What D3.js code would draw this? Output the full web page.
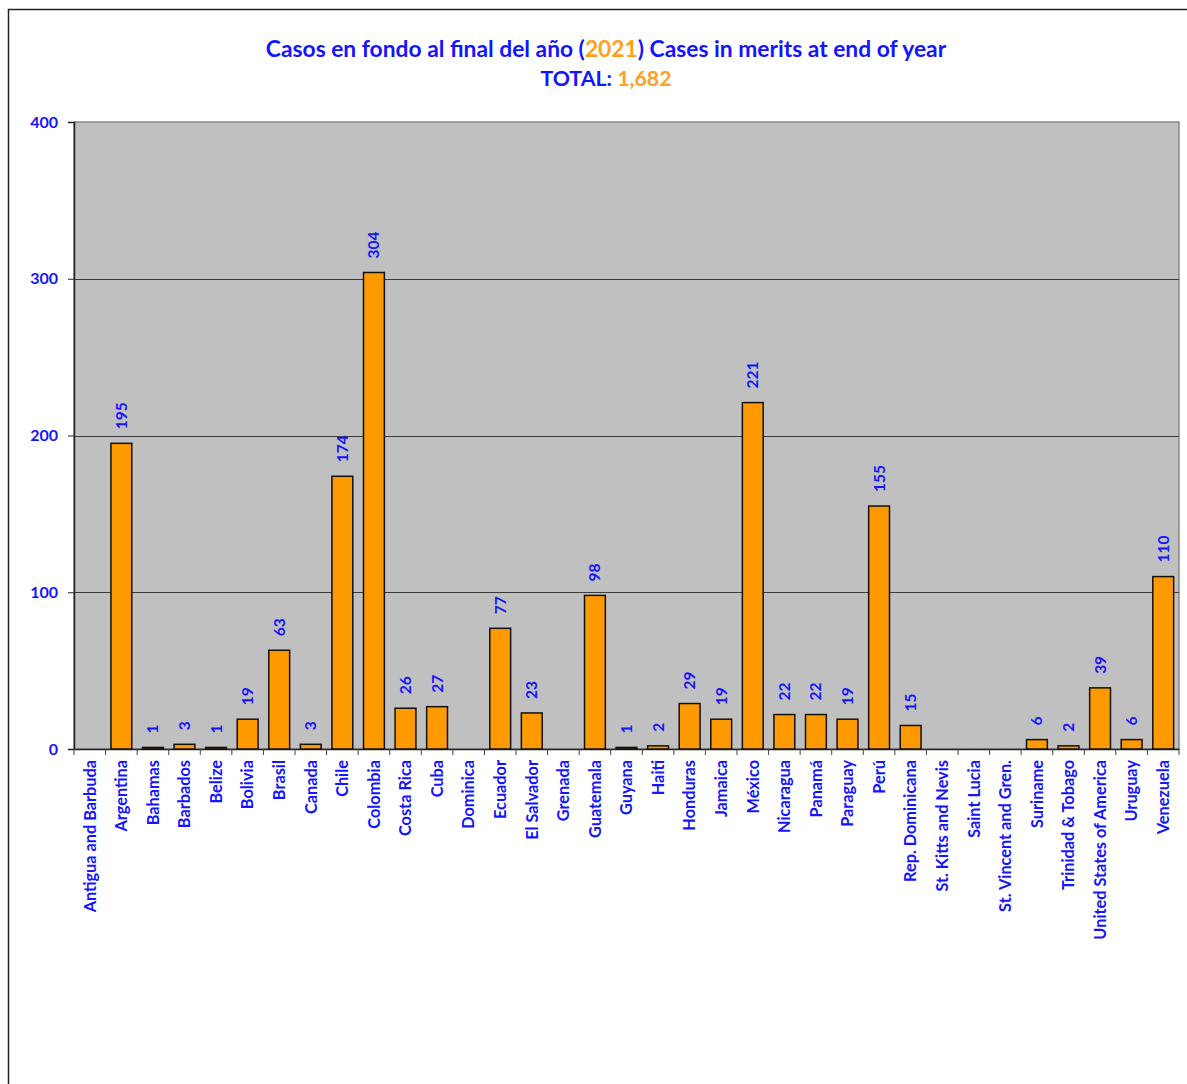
<!DOCTYPE html>
<html><head><meta charset="utf-8">
<script src="https://cdn.jsdelivr.net/npm/d3@7"></script>
<style>body{margin:0;background:#fff}svg{display:block}</style>
</head><body>
<script>
const categories = ["Antigua and Barbuda","Argentina","Bahamas","Barbados","Belize","Bolivia","Brasil","Canada","Chile","Colombia","Costa Rica","Cuba","Dominica","Ecuador","El Salvador","Grenada","Guatemala","Guyana","Haiti","Honduras","Jamaica","México","Nicaragua","Panamá","Paraguay","Perú","Rep. Dominicana","St. Kitts and Nevis","Saint Lucia","St. Vincent and Gren.","Suriname","Trinidad & Tobago","United States of America","Uruguay","Venezuela"];
const values = [0,195,1,3,1,19,63,3,174,304,26,27,0,77,23,0,98,1,2,29,19,221,22,22,19,155,15,0,0,0,6,2,39,6,110];
const yTicks = [0,100,200,300,400];
const titleParts = [["Casos en fondo al final del año (", "blue"], ["2021", "orange"], [") Cases in merits at end of year", "blue"]];
const totalParts = [["TOTAL: ", "blue"], ["1,682", "orange"]];

const W = 1187, H = 1084;
const BLUE = "#1414ff", ORANGE = "#ff9900", FONT = "Lato, 'Open Sans', sans-serif";
const m = {left: 74, right: 1179, top: 122, bottom: 749};

const svg = d3.select("body").append("svg").attr("width", W).attr("height", H);
svg.append("rect").attr("width", W).attr("height", H).attr("fill", "#fff");
// outer frame
svg.append("path").attr("d", `M8.5,${H+2} L8.5,9.5 L${W+2},9.5`).attr("fill","none").attr("stroke","#222").attr("stroke-width",1.5);

const x = d3.scaleBand().domain(categories).range([m.left, m.right]).paddingInner(0).paddingOuter(0);
const y = d3.scaleLinear().domain([0, 400]).range([m.bottom, m.top]);

// plot background
svg.append("rect").attr("x", m.left).attr("y", m.top).attr("width", m.right - m.left).attr("height", m.bottom - m.top)
  .attr("fill", "#c0c0c0").attr("stroke", "#888").attr("stroke-width", 1.5);

// gridlines
svg.append("g").selectAll("line").data(yTicks.filter(t => t > 0 && t < 400)).join("line")
  .attr("x1", m.left).attr("x2", m.right).attr("y1", d => Math.round(y(d)) + 0.5).attr("y2", d => Math.round(y(d)) + 0.5)
  .attr("stroke", "#3a3a3a").attr("stroke-width", 1);

// y axis
const yAxis = svg.append("g").attr("transform", `translate(${m.left},0)`)
  .call(d3.axisLeft(y).tickValues(yTicks).tickSize(6).tickPadding(10).tickFormat(d3.format("d")));
yAxis.select(".domain").attr("stroke", "#222").attr("stroke-width", 1.5);
yAxis.selectAll(".tick line").attr("stroke", "#222");
yAxis.selectAll("text").attr("fill", BLUE).attr("font-family", FONT).attr("font-weight", "bold").attr("font-size", 16);

// x axis
const xAxis = svg.append("g").attr("transform", `translate(0,${m.bottom})`)
  .call(d3.axisBottom(x).tickSize(0).tickPadding(0));
xAxis.select(".domain").attr("stroke", "#222").attr("stroke-width", 1.5);
xAxis.selectAll(".tick line").remove();
xAxis.selectAll(".tick text")
  .attr("transform", "rotate(-90)")
  .attr("text-anchor", "end").attr("dy", "0.35em").attr("x", -11).attr("y", 0)
  .attr("fill", BLUE).attr("font-family", FONT).attr("font-weight", "bold").attr("font-size", 16.3);
// category boundary ticks
svg.append("g").selectAll("line").data(d3.range(categories.length + 1)).join("line")
  .attr("x1", i => m.left + i * x.step()).attr("x2", i => m.left + i * x.step())
  .attr("y1", m.bottom).attr("y2", m.bottom + 6).attr("stroke", "#444");

// bars
const bw = x.bandwidth() * 0.66;
svg.append("g").selectAll("rect").data(values.map((v, i) => ({c: categories[i], v}))).join("rect")
  .filter(d => d.v > 0)
  .attr("x", d => x(d.c) + (x.bandwidth() - bw) / 2)
  .attr("y", d => y(d.v))
  .attr("width", bw)
  .attr("height", d => y(0) - y(d.v))
  .attr("fill", ORANGE).attr("stroke", "#111").attr("stroke-width", 1.5);

// value labels
svg.append("g").selectAll("text").data(values.map((v, i) => ({c: categories[i], v}))).join("text")
  .filter(d => d.v > 0)
  .attr("transform", d => `translate(${x(d.c) + x.bandwidth() / 2},${y(d.v) - 14}) rotate(-90)`)
  .attr("dy", "0.35em").attr("text-anchor", "start")
  .attr("fill", BLUE).attr("font-family", FONT).attr("font-weight", "bold").attr("font-size", 15.5)
  .text(d => d.v);

// title
function addLine(parts, yPos, size) {
  const t = svg.append("text").attr("x", 606).attr("y", yPos).attr("text-anchor", "middle")
    .attr("font-family", FONT).attr("font-weight", "bold").attr("font-size", size);
  parts.forEach(([s, c]) => t.append("tspan").text(s).attr("fill", c === "blue" ? BLUE : "#ffa020"));
}
addLine(titleParts, 57, 22.8);
addLine(totalParts, 86, 21.3);
</script>
</body></html>
